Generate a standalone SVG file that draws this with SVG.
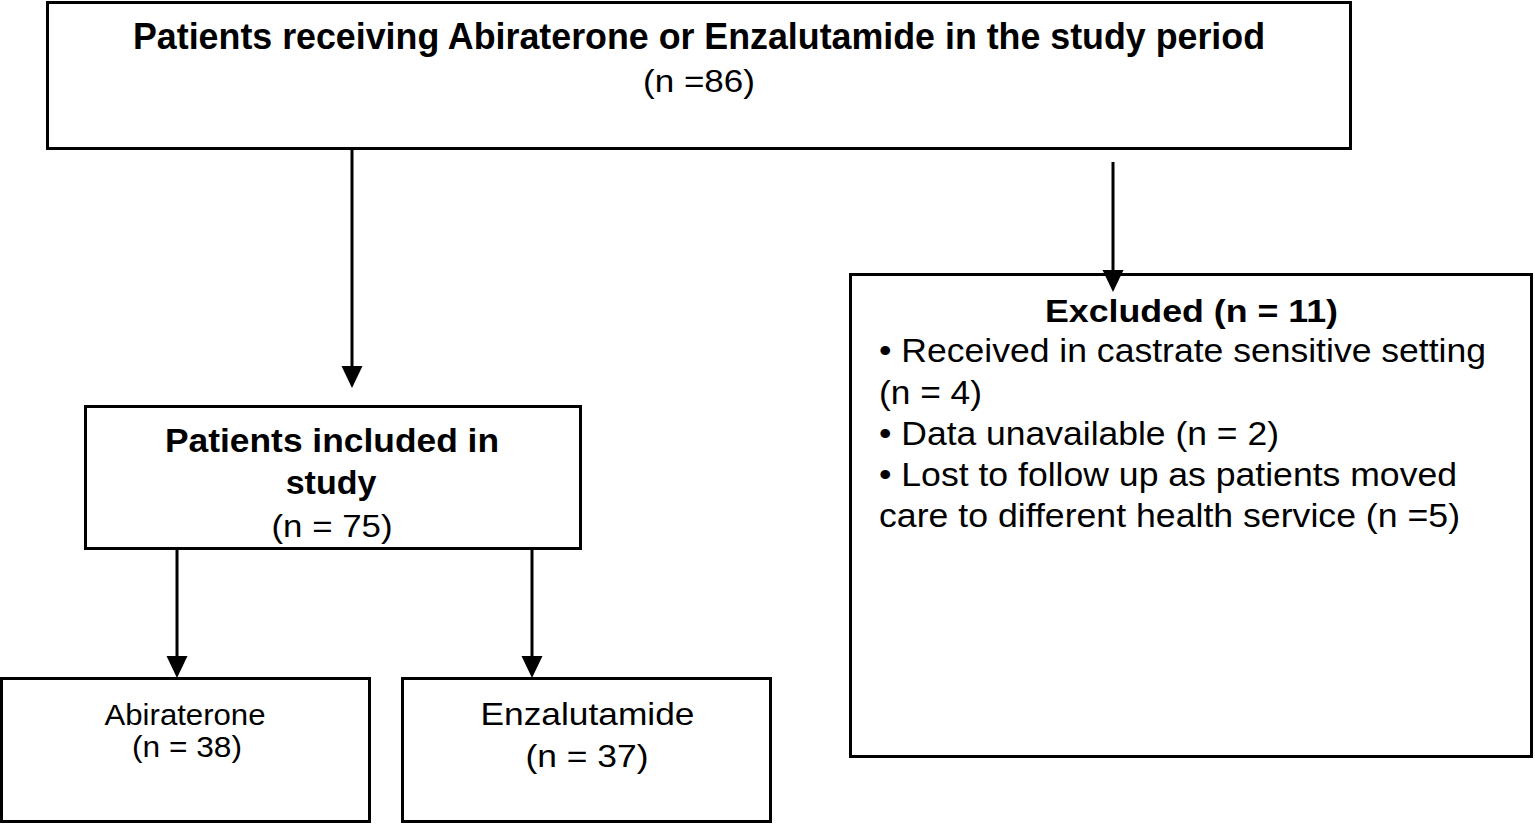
<svg xmlns="http://www.w3.org/2000/svg" width="1535" height="824" viewBox="0 0 1535 824">
<style>
.box{fill:#fff;stroke:#000;stroke-width:3}
.con{stroke:#000;stroke-width:3;fill:none}
text{font-family:"Liberation Sans",Arial,sans-serif;fill:#000}
.b{font-weight:bold}
.c{text-anchor:middle}
</style>
<defs>
<marker id="ah" markerUnits="userSpaceOnUse" markerWidth="22" markerHeight="22" viewBox="0 0 22 22" refX="17" refY="11" orient="auto">
<path d="M0,0.5 L22,11 L0,21.5 z" fill="#000"/>
</marker>
</defs>
<rect width="1535" height="824" fill="#fff"/>
<g id="node-total">
<rect class="box" x="47.5" y="2.5" width="1303" height="146"/>
<text class="b c" x="699" y="49" font-size="36" textLength="1132" lengthAdjust="spacingAndGlyphs">Patients receiving Abiraterone or Enzalutamide in the study period</text>
<text class="c" x="699" y="92" font-size="32" textLength="112" lengthAdjust="spacingAndGlyphs">(n =86)</text>
</g>
<g id="node-included">
<rect class="box" x="85.5" y="406.5" width="495" height="142"/>
<text class="b c" x="332" y="452" font-size="34" textLength="334" lengthAdjust="spacingAndGlyphs">Patients included in</text>
<text class="b c" x="331" y="494" font-size="34">study</text>
<text class="c" x="332" y="537" font-size="32" textLength="121" lengthAdjust="spacingAndGlyphs">(n = 75)</text>
</g>
<g id="node-excluded">
<rect class="box" x="850.5" y="274.5" width="681" height="482"/>
<text class="b c" x="1191.5" y="322" font-size="32" textLength="293" lengthAdjust="spacingAndGlyphs">Excluded (n = 11)</text>
<text x="879" y="362" font-size="33" textLength="607" lengthAdjust="spacingAndGlyphs">• Received in castrate sensitive setting</text>
<text x="879" y="404" font-size="33" textLength="103" lengthAdjust="spacingAndGlyphs">(n = 4)</text>
<text x="879" y="445" font-size="33" textLength="400" lengthAdjust="spacingAndGlyphs">• Data unavailable (n = 2)</text>
<text x="879" y="486" font-size="33" textLength="578" lengthAdjust="spacingAndGlyphs">• Lost to follow up as patients moved</text>
<text x="879" y="527" font-size="33" textLength="581" lengthAdjust="spacingAndGlyphs">care to different health service (n =5)</text>
</g>
<g id="node-abiraterone">
<rect class="box" x="1.5" y="678.5" width="368" height="143"/>
<text class="c" x="185" y="725" font-size="29" textLength="161" lengthAdjust="spacingAndGlyphs">Abiraterone</text>
<text class="c" x="187" y="757" font-size="29" textLength="110" lengthAdjust="spacingAndGlyphs">(n = 38)</text>
</g>
<g id="node-enzalutamide">
<rect class="box" x="402.5" y="678.5" width="368" height="143"/>
<text class="c" x="587.5" y="725" font-size="32" textLength="214" lengthAdjust="spacingAndGlyphs">Enzalutamide</text>
<text class="c" x="587" y="767" font-size="32" textLength="123" lengthAdjust="spacingAndGlyphs">(n = 37)</text>
</g>
<g id="connectors">
<line class="con" x1="352" y1="148" x2="352" y2="383" marker-end="url(#ah)"/>
<line class="con" x1="1113" y1="162" x2="1113" y2="287" marker-end="url(#ah)"/>
<line class="con" x1="177" y1="549" x2="177" y2="673" marker-end="url(#ah)"/>
<line class="con" x1="532" y1="549" x2="532" y2="673" marker-end="url(#ah)"/>
</g>
</svg>
